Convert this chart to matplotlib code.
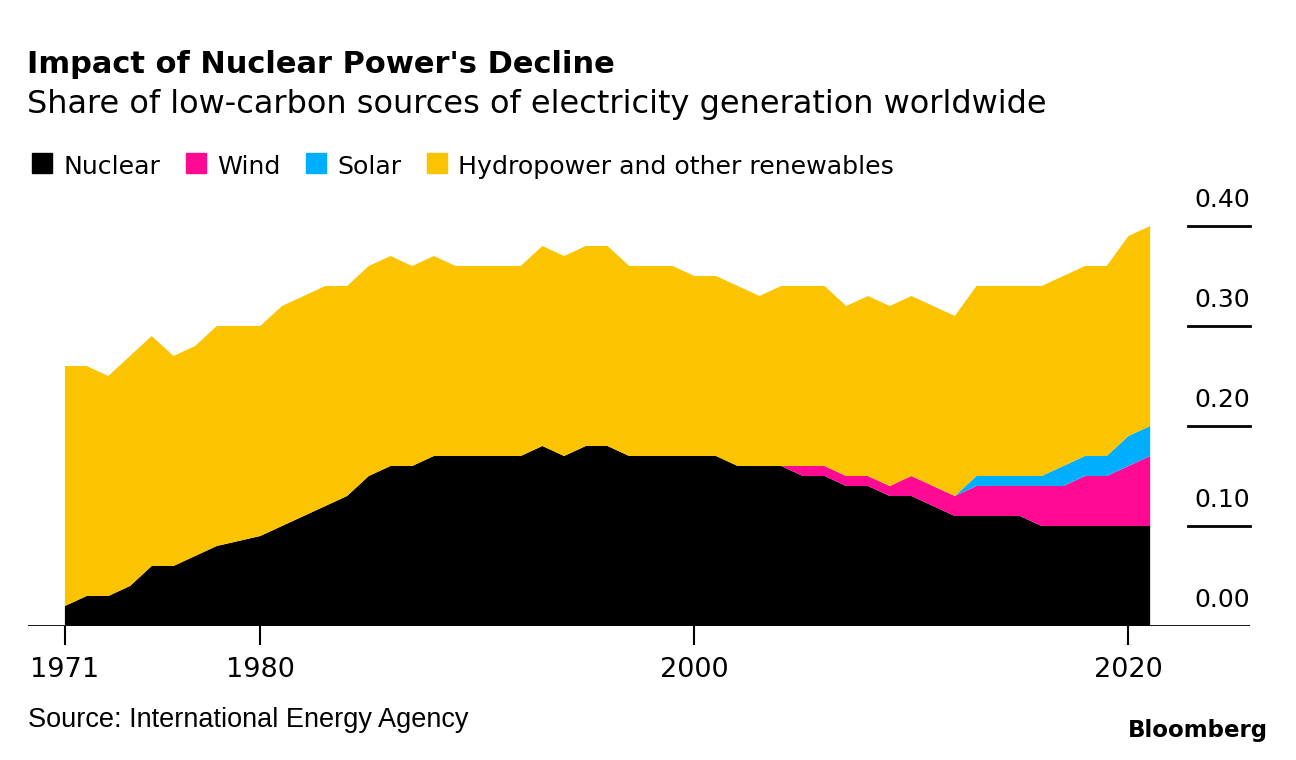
import numpy as np
from matplotlib import pyplot as plt
from matplotlib.patches import Rectangle

plt.rcParams['font.family'] = ['DejaVu Sans']

years = list(range(1971, 2022))

nuclear = [0.02, 0.03, 0.03, 0.04, 0.06, 0.06, 0.07, 0.08, 0.085, 0.09,
           0.10, 0.11, 0.12, 0.13, 0.15, 0.16, 0.16, 0.17, 0.17, 0.17,
           0.17, 0.17, 0.18, 0.17, 0.18, 0.18, 0.17, 0.17, 0.17, 0.17,
           0.17, 0.16, 0.16, 0.16, 0.15, 0.15, 0.14, 0.14, 0.13, 0.13,
           0.12, 0.11, 0.11, 0.11, 0.11, 0.10, 0.10, 0.10, 0.10, 0.10,
           0.10]
wind = [0] * 34 + [0.01, 0.01, 0.01, 0.01, 0.01, 0.02, 0.02, 0.02, 0.03,
                   0.03, 0.03, 0.04, 0.04, 0.05, 0.05, 0.06, 0.07]
solar = [0] * 42 + [0.01, 0.01, 0.01, 0.01, 0.02, 0.02, 0.02, 0.03, 0.03]
hydro = [0.24, 0.23, 0.22, 0.23, 0.23, 0.21, 0.21, 0.22, 0.215, 0.21,
         0.22, 0.22, 0.22, 0.21, 0.21, 0.21, 0.20, 0.20, 0.19, 0.19,
         0.19, 0.19, 0.20, 0.20, 0.20, 0.20, 0.19, 0.19, 0.19, 0.18,
         0.18, 0.18, 0.17, 0.18, 0.18, 0.18, 0.17, 0.18, 0.18, 0.18,
         0.18, 0.18, 0.19, 0.19, 0.19, 0.19, 0.19, 0.19, 0.19, 0.20,
         0.20]

labels = ['Nuclear', 'Wind', 'Solar', 'Hydropower and other renewables']
colors = ['#000000', '#ff0a93', '#00aeff', '#fcc300']
x_ticks = [1971, 1980, 2000, 2020]
y_ticks = [0.0, 0.1, 0.2, 0.3, 0.4]

W, H = 1296, 760
fig = plt.figure(figsize=(W / 100, H / 100), dpi=100)
ax = fig.add_axes([28 / W, (H - 626) / H, 1222 / W, 436 / H])

ax.stackplot(years, nuclear, wind, solar, hydro, colors=colors, linewidth=0)
ax.set_xlim(1969.3, 2025.6)
ax.set_ylim(0, 0.436)

for s in ax.spines.values():
    s.set_visible(False)
ax.axhline(0, color='black', lw=2, zorder=5)
ax.set_yticks([])
ax.set_xticks(x_ticks)
ax.set_xticklabels([])
ax.tick_params(axis='x', length=14, width=1.5)
for yr in x_ticks:
    ax.text(yr, -50.7 / 436, str(yr), transform=ax.get_xaxis_transform(),
            ha='center', va='baseline', fontsize=19.5)

# right-hand value scale: short rules with labels above them
for v in y_ticks:
    if v > 0:
        ax.plot([0.949, 1.0], [v, v], color='black', lw=2,
                transform=ax.get_yaxis_transform(), clip_on=False)
    ax.text(1.0, v + 0.0187, f'{v:.2f}', transform=ax.get_yaxis_transform(),
            ha='right', va='baseline', fontsize=18)

fig.text(27 / W, 1 - 73.3 / H, "Impact of Nuclear Power's Decline",
         fontsize=22, fontweight='bold', va='baseline')
fig.text(27 / W, 1 - 113 / H,
         'Share of low-carbon sources of electricity generation worldwide',
         fontsize=23, va='baseline')

# legend row
lx = 32
for lab, c in zip(labels, colors):
    fig.patches.append(Rectangle((lx / W, 1 - 173.3 / H), 20 / W, 20 / H,
                                 color=c, transform=fig.transFigure))
    t = fig.text((lx + 31) / W, 1 - 174.3 / H, lab, fontsize=18.2,
                 va='baseline')
    fig.canvas.draw()
    lx = t.get_window_extent().x1 + 26

fig.text(28 / W, 1 - 726.7 / H, 'Source: International Energy Agency',
         fontsize=19.5, va='baseline', family='Liberation Sans')
fig.text(1268 / W, 1 - 737 / H, 'Bloomberg', fontsize=16.5,
         fontweight='bold', va='baseline', ha='right')

fig.savefig('out.png', dpi=100)
